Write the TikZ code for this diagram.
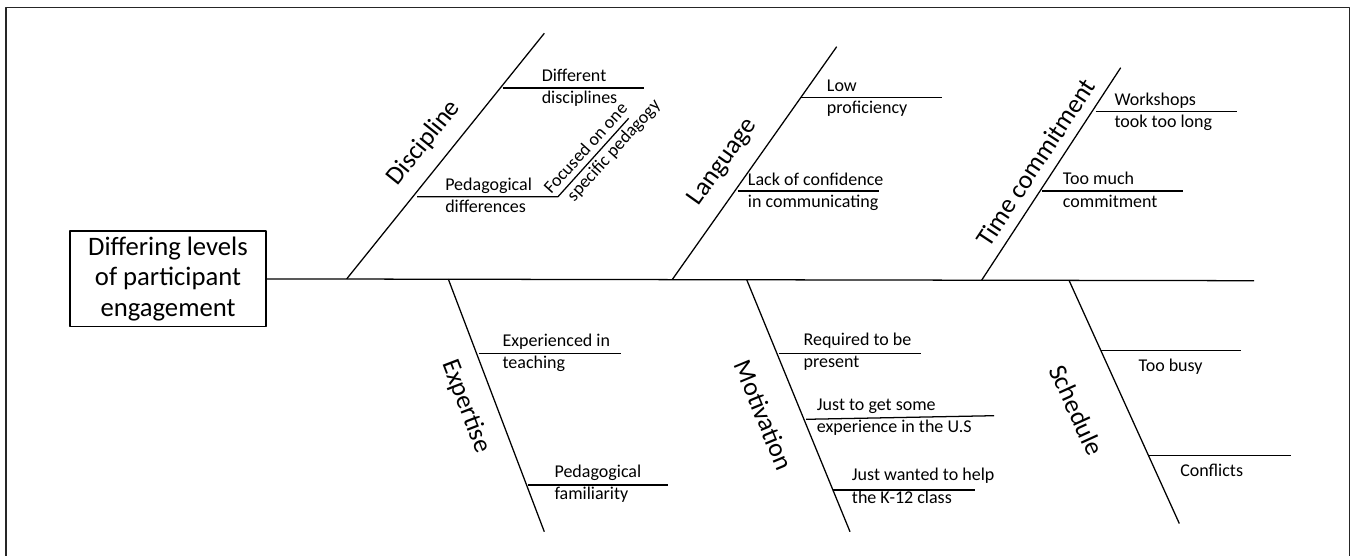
\documentclass[tikz,border=0pt]{standalone}
\usepackage{fontspec}
\setmainfont{Carlito}
\begin{document}
\begin{tikzpicture}[x=0.75pt,y=-0.75pt,
  line join=round,
  bone/.style={line width=0.95pt},
  rib/.style={line width=0.95pt},
  frame/.style={line width=1.1pt, black!85},
  cat/.style={font=\fontsize{19.5}{23}\selectfont, inner sep=0pt},
  sub/.style={font=\fontsize{13.5}{16}\selectfont, inner sep=0pt, anchor=base west},
  slanted/.style={font=\fontsize{13.5}{16.5}\selectfont, inner sep=0pt, align=left},
  effectbox/.style={draw, line width=0.95pt, align=center,
    font=\fontsize{20}{22.9}\selectfont, inner sep=0pt,
    minimum width=147pt, minimum height=71.8pt}]

\useasboundingbox (0,0) rectangle (1351,556);

% outer frame (open at the bottom)
\draw[frame] (6,562) -- (6,7.5) -- (1349.5,7.5) -- (1349.5,562);

% effect box and spine
\node[effectbox] (effect) at (168,278.9) {Differing levels\\of participant\\engagement};
\coordinate (tail) at (1254,280.7);
\draw[bone] (effect.east) -- (tail);

% ---------- upper bones ----------
\coordinate (dB) at (346.7,278.9); \coordinate (dT) at (544.3,33.3);
\coordinate (lB) at (672.3,279.5); \coordinate (lT) at (836.7,46.7);
\coordinate (tB) at (981.7,280.1); \coordinate (tT) at (1120.7,67.7);
\draw[bone] (dB) -- (dT);
\draw[bone] (lB) -- (lT);
\draw[bone] (tB) -- (tT);

\node[cat, rotate=51.2] (dLab) at (424,143) {Discipline};
\node[cat, rotate=54.6] (lLab) at (723,162) {Language};
\node[cat, rotate=56.5] (tLab) at (1035.5,162.5) {Time commitment};

% Discipline causes
\coordinate (d1s) at (502.7,88); \coordinate (d1e) at (644,88);
\draw[rib] (d1s) -- (d1e);
\node[sub] (d1a) at (541.5,82) {Different};
\node[sub] (d1b) at (541.5,104) {disciplines};

\coordinate (d2s) at (417,196.7); \coordinate (d2e) at (558,196.7);
\coordinate (d2f) at (628.7,118.3);
\draw[rib] (d2s) -- (d2e) -- (d2f);
\node[sub] (d2a) at (445,190.7) {Pedagogical};
\node[sub] (d2b) at (445,212.7) {differences};
\node[slanted, rotate=48] (d2c) at (602.7,147.2)
  {Focused on one\\\hspace*{7.5pt}specific pedagogy};

% Language causes
\coordinate (l1s) at (800,97.7); \coordinate (l1e) at (941.7,97.7);
\draw[rib] (l1s) -- (l1e);
\node[sub] (l1a) at (826.7,91.7) {Low};
\node[sub] (l1b) at (826.7,113.7) {proficiency};

\coordinate (l2s) at (737.7,191); \coordinate (l2e) at (879,191);
\draw[rib] (l2s) -- (l2e);
\node[sub] (l2a) at (747.7,185.5) {Lack of confidence};
\node[sub] (l2b) at (747.7,207.5) {in communicating};

% Time commitment causes
\coordinate (t1s) at (1095.7,111.7); \coordinate (t1e) at (1236.7,111.7);
\draw[rib] (t1s) -- (t1e);
\node[sub] (t1a) at (1114.3,105.9) {Workshops};
\node[sub] (t1b) at (1114.3,127.9) {took too long};

\coordinate (t2s) at (1042.3,191); \coordinate (t2e) at (1183.3,191);
\draw[rib] (t2s) -- (t2e);
\node[sub] (t2a) at (1062.7,185) {Too much};
\node[sub] (t2b) at (1062.7,207) {commitment};

% ---------- lower bones ----------
\coordinate (eT) at (448.3,279.1); \coordinate (eB) at (544.3,531.7);
\coordinate (mT) at (746.7,279.7); \coordinate (mB) at (850,531.7);
\coordinate (sT) at (1069,280.3);  \coordinate (sB) at (1179.3,523.5);
\draw[bone] (eT) -- (eB);
\draw[bone] (mT) -- (mB);
\draw[bone] (sT) -- (sB);

\node[cat, rotate=-69] (eLab) at (466,406.5) {Expertise};
\node[cat, rotate=-67.5] (mLab) at (764,415) {Motivation};
\node[cat, rotate=-65.6] (sLab) at (1076.7,410) {Schedule};

% Expertise causes
\coordinate (e1s) at (479.3,353.3); \coordinate (e1e) at (620.7,353.3);
\draw[rib] (e1s) -- (e1e);
\node[sub] (e1a) at (502.3,346) {Experienced in};
\node[sub] (e1b) at (502.3,368) {teaching};

\coordinate (e2s) at (527.7,485); \coordinate (e2e) at (668.3,485);
\draw[rib] (e2s) -- (e2e);
\node[sub] (e2a) at (554.3,477.3) {Pedagogical};
\node[sub] (e2b) at (554.3,499.3) {familiarity};

% Motivation causes
\coordinate (m1s) at (779.3,353.3); \coordinate (m1e) at (920.7,353.3);
\draw[rib] (m1s) -- (m1e);
\node[sub] (m1a) at (803.3,345.3) {Required to be};
\node[sub] (m1b) at (803.3,367.3) {present};

\coordinate (m2s) at (806,419.3); \coordinate (m2e) at (994,415.7);
\draw[rib] (m2s) -- (m2e);
\node[sub] (m2a) at (816.7,410.7) {Just to get some};
\node[sub] (m2b) at (816.7,432.7) {experience in the U.S};

\coordinate (m3s) at (833.3,490); \coordinate (m3e) at (975,490);
\draw[rib] (m3s) -- (m3e);
\node[sub] (m3a) at (851.7,480.5) {Just wanted to help};
\node[sub] (m3b) at (851.7,503.3) {the K-12 class};

% Schedule causes
\coordinate (s1s) at (1100.7,350.7); \coordinate (s1e) at (1240.7,350.7);
\draw[rib] (s1s) -- (s1e);
\node[sub] (s1a) at (1138.3,371.7) {Too busy};

\coordinate (s2s) at (1149.3,455.7); \coordinate (s2e) at (1290.7,455.7);
\draw[rib] (s2s) -- (s2e);
\node[sub] (s2a) at (1180,476.3) {Conflicts};

\end{tikzpicture}
\end{document}
